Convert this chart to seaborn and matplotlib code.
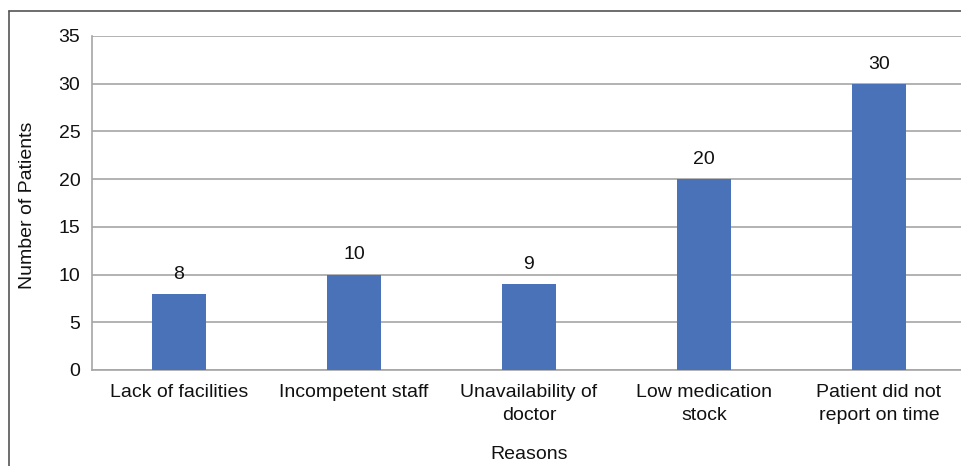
import matplotlib
matplotlib.use("Agg")
import matplotlib.pyplot as plt
import seaborn as sns
import pandas as pd
from matplotlib.lines import Line2D

# datos
reasons = ["Lack of facilities", "Incompetent staff", "Unavailability of\ndoctor",
           "Low medication\nstock", "Patient did not\nreport on time"]
patients = [8, 10, 9, 20, 30]
y_ticks = [0, 5, 10, 15, 20, 25, 30, 35]

df = pd.DataFrame({"Reasons": reasons, "Patients": patients})

sns.set_theme(style="white")
plt.rcParams['font.family'] = ['Liberation Sans', 'DejaVu Sans']

fs = 14
txt = '#111111'

fig = plt.figure(figsize=(9.61, 4.66), dpi=100)
ax = fig.add_axes([91.5 / 961, 96 / 466, 875 / 961, 334 / 466])

sns.barplot(data=df, x="Reasons", y="Patients", color="#4a72b8",
            width=0.31, saturation=1, linewidth=0, ax=ax, zorder=3)

ax.set_ylim(0, 35)
ax.set_yticks(y_ticks)
ax.grid(axis='y', color='#a6a6a6', linewidth=1.2, zorder=0)
ax.set_axisbelow(True)
for s in ['top', 'right']:
    ax.spines[s].set_visible(False)
for s in ['left', 'bottom']:
    ax.spines[s].set_color('#a6a6a6')
    ax.spines[s].set_linewidth(1.2)

ax.tick_params(axis='both', length=0, labelsize=fs, colors=txt)
ax.tick_params(axis='x', pad=10)
ax.tick_params(axis='y', pad=8)
for lbl in ax.get_xticklabels():
    lbl.set_linespacing(1.45)

ax.bar_label(ax.containers[0], fontsize=fs, padding=8, color=txt)

ax.set_xlabel("Reasons", fontsize=fs, color=txt)
ax.xaxis.set_label_coords(0.5, -(446 - 370) / 334)
ax.set_ylabel("Number of Patients", fontsize=fs, color=txt)
ax.yaxis.set_label_coords(-(91.5 - 36) / 875, (370 - 205) / 334)

# marco exterior (solo lados izquierdo y superior visibles)
fig.add_artist(Line2D([9 / 961, 9 / 961], [0, 1 - 11 / 466], transform=fig.transFigure,
                      color='#555555', linewidth=1.2))
fig.add_artist(Line2D([9 / 961, 1], [1 - 11 / 466, 1 - 11 / 466], transform=fig.transFigure,
                      color='#555555', linewidth=1.2))

fig.savefig("out.png", dpi=100)
